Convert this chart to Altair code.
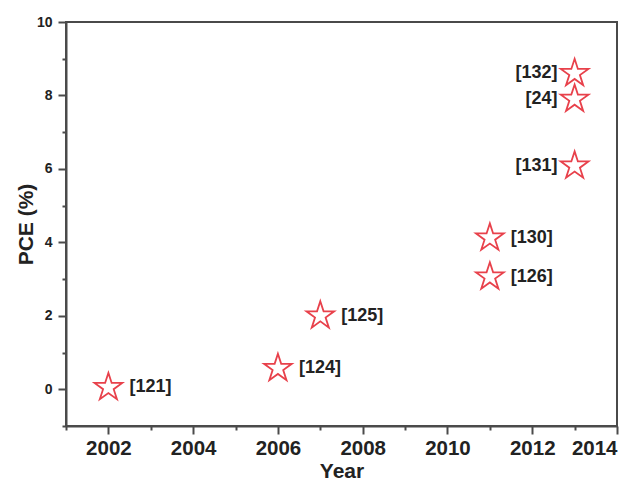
import altair as alt
import pandas as pd

years = [2002, 2006, 2007, 2011, 2011, 2013, 2013, 2013]
pce = [0.05, 0.57, 2.0, 3.06, 4.12, 6.08, 7.9, 8.6]
refs = ["[121]", "[124]", "[125]", "[126]", "[130]", "[131]", "[24]", "[132]"]
side = ["right", "right", "right", "right", "right", "left", "left", "left"]

x_major = [2002, 2004, 2006, 2008, 2010, 2012, 2014]
x_minor = [2001, 2003, 2005, 2007, 2009, 2011, 2013]
y_major = [0, 2, 4, 6, 8, 10]
y_minor = [-1, 1, 3, 5, 7, 9]

df = pd.DataFrame({"year": years, "pce": pce, "ref": refs, "side": side})

FONT = "Liberation Sans"
RED = "#e8414b"
AX = "#4a4a4a"
TXT = "#222222"
STAR = ("M0,-1L0.2245,-0.309L0.951,-0.309L0.363,0.118L0.588,0.809L0,0.382"
        "L-0.588,0.809L-0.363,0.118L-0.951,-0.309L-0.2245,-0.309Z")

xs = alt.Scale(domain=[2001, 2014], nice=False, zero=False)
ys = alt.Scale(domain=[-1, 10], nice=False, zero=False)

x = alt.X("year:Q", scale=xs, axis=alt.Axis(
    orient="bottom", values=x_major, format="d", tickSize=8, title="Year",
    labelFontSize=20.5, labelPadding=4, titleFontSize=21, titlePadding=2))
y = alt.Y("pce:Q", scale=ys, axis=alt.Axis(
    orient="left", values=y_major, tickSize=8, title="PCE (%)",
    labelFontSize=14, labelPadding=6, titleFontSize=21, titlePadding=0))

xm = alt.X("year:Q", scale=xs, axis=alt.Axis(orient="bottom", values=x_minor, labels=False, tickSize=4, domain=False, title=None))
ym = alt.Y("pce:Q", scale=ys, axis=alt.Axis(orient="left", values=y_minor, labels=False, tickSize=4, domain=False, title=None))

base = alt.Chart(df)

stars = base.mark_point(shape=STAR, filled=False, size=850, color=RED, strokeWidth=1.8, opacity=1).encode(x=x, y=y)

minor = base.mark_point(opacity=0).encode(x=xm, y=ym)

lab_r = base.transform_filter("datum.side == 'right'").mark_text(
    align="left", baseline="middle", dx=21, font=FONT, fontWeight="bold", fontSize=18, color=TXT
).encode(x=x, y=y, text="ref:N")

lab_l = base.transform_filter("datum.side == 'left'").mark_text(
    align="right", baseline="middle", dx=-17, font=FONT, fontWeight="bold", fontSize=18, color=TXT
).encode(x=x, y=y, text="ref:N")

main = alt.layer(stars, lab_r, lab_l)

chart = (
    alt.layer(main, minor)
    .resolve_axis(x="independent", y="independent")
    .properties(
        width=551,
        height=404,
        autosize=alt.AutoSizeParams(type="none"),
        padding={"left": 58, "top": 14, "right": 15, "bottom": 58},
        background="white",
    )
    .configure_view(stroke=AX, strokeWidth=2)
    .configure_axis(
        grid=False,
        domainColor=AX,
        domainWidth=2,
        tickColor=AX,
        tickWidth=2,
        labelFont=FONT,
        labelFontWeight="bold",
        labelColor=TXT,
        titleFont=FONT,
        titleFontWeight="bold",
        titleColor=TXT,
    )
)

chart.save("out.html", embed_options={"renderer": "svg", "actions": False})
